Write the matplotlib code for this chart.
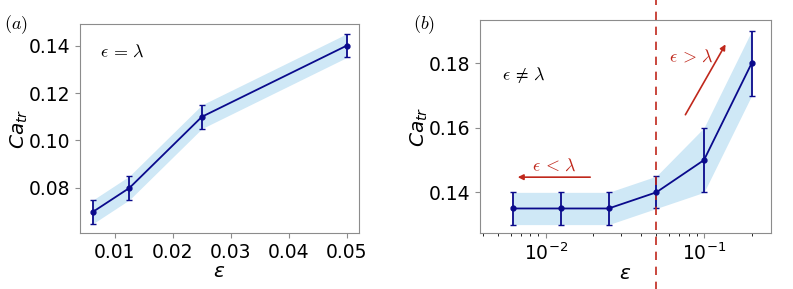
import numpy as np
import matplotlib
matplotlib.use("Agg")
import matplotlib.pyplot as plt

# panel (a): eps = lambda
eps_a = [0.00625, 0.0125, 0.025, 0.05]
ca_a = [0.07, 0.08, 0.11, 0.14]
err_a = [0.005, 0.005, 0.005, 0.005]

# panel (b): eps != lambda
eps_b = [0.00625, 0.0125, 0.025, 0.05, 0.1, 0.2]
ca_b = [0.135, 0.135, 0.135, 0.14, 0.15, 0.18]
err_b = [0.005, 0.005, 0.005, 0.005, 0.01, 0.01]
lam = 0.05

line_c = "#0a0a8c"
band_c = "#cfe8f6"
red_c = "#c0281c"
spine_c = "#8c8c8c"
fs = 13.5
fs_ann = 13

fig = plt.figure(figsize=(7.93, 2.89), dpi=100)
ax1 = fig.add_axes([80/793, 1-233/289, 279/793, 209/289])
ax2 = fig.add_axes([480/793, 1-233/289, 291/793, 213/289])


def draw(ax, x, y, e):
    x = np.array(x); y = np.array(y); e = np.array(e)
    ax.fill_between(x, y - e, y + e, color=band_c, lw=0)
    ax.errorbar(x, y, yerr=e, color=line_c, lw=1.3, marker="o", ms=3.5,
                capsize=2, elinewidth=1.3, capthick=1)
    for s in ax.spines.values():
        s.set_color(spine_c)
    ax.tick_params(labelsize=fs, color=spine_c)
    ax.set_xlabel(r"$\varepsilon$", fontsize=fs + 1, labelpad=0)
    ax.set_ylabel(r"$Ca_{tr}$", fontsize=fs + 1, labelpad=-1)


draw(ax1, eps_a, ca_a, err_a)
ax1.set_xlim(0.00397, 0.0521)
ax1.set_ylim(0.061, 0.1491)
ax1.set_xticks([0.01, 0.02, 0.03, 0.04, 0.05])
ax1.set_yticks([0.08, 0.10, 0.12, 0.14])
ax1.text(0.072, 0.866, r"$\epsilon\,=\,\lambda$", transform=ax1.transAxes,
         fontsize=fs_ann, math_fontfamily="cm", va="center")

draw(ax2, eps_b, ca_b, err_b)
ax2.set_xscale("log")
ax2.set_xlim(0.00385, 0.265)
ax2.set_ylim(0.1274, 0.1934)
ax2.set_yticks([0.14, 0.16, 0.18])
ax2.axvline(lam, color=red_c, ls=(0, (5, 4)), lw=1.2, ymin=-0.33, ymax=1.1,
            clip_on=False)
ax2.text(0.076, 0.74, r"$\epsilon\,\neq\,\lambda$", transform=ax2.transAxes,
         fontsize=fs_ann, math_fontfamily="cm", va="center")
ax2.annotate("", xy=(0.0064, 0.1447), xytext=(0.0199, 0.1447),
             arrowprops=dict(arrowstyle="-|>", color=red_c, lw=1.2,
                             mutation_scale=8))
ax2.text(0.0114, 0.1482, r"$\epsilon\,<\,\lambda$", color=red_c, fontsize=fs_ann,
         math_fontfamily="cm", ha="center", va="center")
ax2.annotate("", xy=(0.1396, 0.1866), xytext=(0.0748, 0.1633),
             arrowprops=dict(arrowstyle="-|>", color=red_c, lw=1.2,
                             mutation_scale=8))
ax2.text(0.0839, 0.182, r"$\epsilon\,>\,\lambda$", color=red_c, fontsize=fs_ann,
         math_fontfamily="cm", ha="center", va="center")

fig.text(4/793, 1-25/289, r"$(a)$", fontsize=fs_ann, math_fontfamily="cm", va="center")
fig.text(413/793, 1-25/289, r"$(b)$", fontsize=fs_ann, math_fontfamily="cm", va="center")

fig.savefig("out.png", dpi=100)
